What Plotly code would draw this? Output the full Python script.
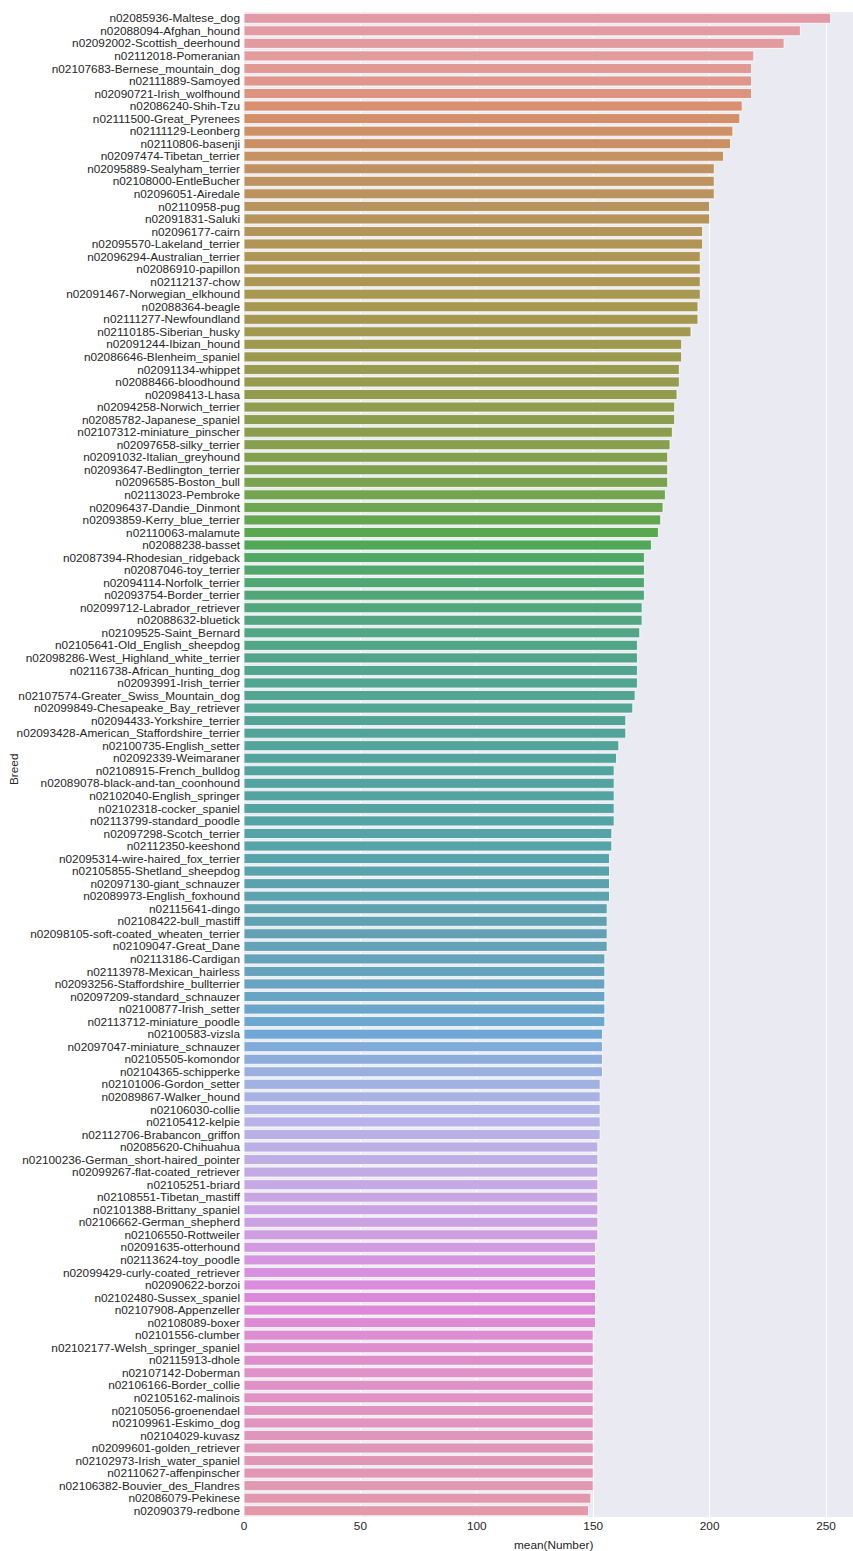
import colorsys
import math
import plotly.graph_objects as go

breeds = [
    "n02085936-Maltese_dog", "n02088094-Afghan_hound", "n02092002-Scottish_deerhound",
    "n02112018-Pomeranian", "n02107683-Bernese_mountain_dog", "n02111889-Samoyed",
    "n02090721-Irish_wolfhound", "n02086240-Shih-Tzu", "n02111500-Great_Pyrenees",
    "n02111129-Leonberg", "n02110806-basenji", "n02097474-Tibetan_terrier",
    "n02095889-Sealyham_terrier", "n02108000-EntleBucher", "n02096051-Airedale",
    "n02110958-pug", "n02091831-Saluki", "n02096177-cairn", "n02095570-Lakeland_terrier",
    "n02096294-Australian_terrier", "n02086910-papillon", "n02112137-chow",
    "n02091467-Norwegian_elkhound", "n02088364-beagle", "n02111277-Newfoundland",
    "n02110185-Siberian_husky", "n02091244-Ibizan_hound", "n02086646-Blenheim_spaniel",
    "n02091134-whippet", "n02088466-bloodhound", "n02098413-Lhasa",
    "n02094258-Norwich_terrier", "n02085782-Japanese_spaniel", "n02107312-miniature_pinscher",
    "n02097658-silky_terrier", "n02091032-Italian_greyhound", "n02093647-Bedlington_terrier",
    "n02096585-Boston_bull", "n02113023-Pembroke", "n02096437-Dandie_Dinmont",
    "n02093859-Kerry_blue_terrier", "n02110063-malamute", "n02088238-basset",
    "n02087394-Rhodesian_ridgeback", "n02087046-toy_terrier", "n02094114-Norfolk_terrier",
    "n02093754-Border_terrier", "n02099712-Labrador_retriever", "n02088632-bluetick",
    "n02109525-Saint_Bernard", "n02105641-Old_English_sheepdog",
    "n02098286-West_Highland_white_terrier", "n02116738-African_hunting_dog",
    "n02093991-Irish_terrier", "n02107574-Greater_Swiss_Mountain_dog",
    "n02099849-Chesapeake_Bay_retriever", "n02094433-Yorkshire_terrier",
    "n02093428-American_Staffordshire_terrier", "n02100735-English_setter",
    "n02092339-Weimaraner", "n02108915-French_bulldog", "n02089078-black-and-tan_coonhound",
    "n02102040-English_springer", "n02102318-cocker_spaniel", "n02113799-standard_poodle",
    "n02097298-Scotch_terrier", "n02112350-keeshond", "n02095314-wire-haired_fox_terrier",
    "n02105855-Shetland_sheepdog", "n02097130-giant_schnauzer", "n02089973-English_foxhound",
    "n02115641-dingo", "n02108422-bull_mastiff", "n02098105-soft-coated_wheaten_terrier",
    "n02109047-Great_Dane", "n02113186-Cardigan", "n02113978-Mexican_hairless",
    "n02093256-Staffordshire_bullterrier", "n02097209-standard_schnauzer",
    "n02100877-Irish_setter", "n02113712-miniature_poodle", "n02100583-vizsla",
    "n02097047-miniature_schnauzer", "n02105505-komondor", "n02104365-schipperke",
    "n02101006-Gordon_setter", "n02089867-Walker_hound", "n02106030-collie",
    "n02105412-kelpie", "n02112706-Brabancon_griffon", "n02085620-Chihuahua",
    "n02100236-German_short-haired_pointer", "n02099267-flat-coated_retriever",
    "n02105251-briard", "n02108551-Tibetan_mastiff", "n02101388-Brittany_spaniel",
    "n02106662-German_shepherd", "n02106550-Rottweiler", "n02091635-otterhound",
    "n02113624-toy_poodle", "n02099429-curly-coated_retriever", "n02090622-borzoi",
    "n02102480-Sussex_spaniel", "n02107908-Appenzeller", "n02108089-boxer",
    "n02101556-clumber", "n02102177-Welsh_springer_spaniel", "n02115913-dhole",
    "n02107142-Doberman", "n02106166-Border_collie", "n02105162-malinois",
    "n02105056-groenendael", "n02109961-Eskimo_dog", "n02104029-kuvasz",
    "n02099601-golden_retriever", "n02102973-Irish_water_spaniel",
    "n02110627-affenpinscher", "n02106382-Bouvier_des_Flandres", "n02086079-Pekinese",
    "n02090379-redbone",
]

mean_number = [
    252, 239, 232, 219, 218, 218, 218, 214, 213, 210, 209, 206, 202, 202, 202, 200, 200,
    197, 197, 196, 196, 196, 196, 195, 195, 192, 188, 188, 187, 187, 186, 185, 185, 184,
    183, 182, 182, 182, 181, 180, 179, 178, 175, 172, 172, 172, 172, 171, 171, 170, 169,
    169, 169, 169, 168, 167, 164, 164, 161, 160, 159, 159, 159, 159, 159, 158, 158, 157,
    157, 157, 157, 156, 156, 156, 156, 155, 155, 155, 155, 155, 155, 154, 154, 154, 154,
    153, 153, 153, 153, 153, 152, 152, 152, 152, 152, 152, 152, 152, 151, 151, 151, 151,
    151, 151, 151, 150, 150, 150, 150, 150, 150, 150, 150, 150, 150, 150, 150, 150, 149,
    148,
]

x_ticks = [0, 50, 100, 150, 200, 250]

# ---- seaborn "husl" palette, desaturated like sns.barplot ----
_M = [[3.2406, -1.5372, -0.4986], [-0.9689, 1.8758, 0.0415], [0.0557, -0.2040, 1.0570]]
_REF_Y, _REF_U, _REF_V = 1.0, 0.19784, 0.46834
_LAB_E, _LAB_K = 0.008856, 903.3


def _max_chroma(L, H):
    hrad = math.radians(H)
    sinH, cosH = math.sin(hrad), math.cos(hrad)
    sub1 = ((L + 16) ** 3) / 1560896.0
    sub2 = sub1 if sub1 > _LAB_E else L / _LAB_K
    result = float("inf")
    for m1, m2, m3 in _M:
        top = (0.99915 * m1 + 1.05122 * m2 + 1.14460 * m3) * sub2
        rbottom = 0.86330 * m3 - 0.17266 * m2
        lbottom = 0.12949 * m3 - 0.38848 * m1
        bottom = (rbottom * sinH + lbottom * cosH) * sub2
        for t in (0.0, 1.0):
            C = L * (top - 1.05122 * t) / (bottom + 0.17266 * sinH * t)
            if 0 < C < result:
                result = C
    return result


def _f_inv(t):
    return t ** 3 if t ** 3 > _LAB_E else (116.0 * t - 16.0) / _LAB_K


def _from_linear(c):
    return 12.92 * c if c <= 0.0031308 else 1.055 * c ** (1 / 2.4) - 0.055


def husl_to_rgb(H, S, L):
    C = _max_chroma(L, H) / 100.0 * S
    hrad = math.radians(H)
    U, V = math.cos(hrad) * C, math.sin(hrad) * C
    varY = _f_inv((L + 16) / 116.0)
    varU = U / (13.0 * L) + _REF_U
    varV = V / (13.0 * L) + _REF_V
    Y = varY * _REF_Y
    X = -(9.0 * Y * varU) / ((varU - 4.0) * varV - varU * varV)
    Z = (9.0 * Y - 15.0 * varV * Y - varV * X) / (3.0 * varV)
    rgb = [_from_linear(r[0] * X + r[1] * Y + r[2] * Z) for r in _M]
    return [min(max(v, 0.0), 1.0) for v in rgb]


def husl_palette(n, h=0.01, s=0.9, l=0.65, desat=0.62, lighten=0.04):
    cols = []
    for i in range(n):
        hue = ((i / n) + h) % 1 * 359
        r, g, b = husl_to_rgb(hue, s * 99, l * 99)
        hh, ll, ss = colorsys.rgb_to_hls(r, g, b)
        r, g, b = colorsys.hls_to_rgb(hh, min(1.0, ll + lighten), ss * desat)
        cols.append("rgb(%d,%d,%d)" % (round(r * 255), round(g * 255), round(b * 255)))
    return cols


colors = husl_palette(len(breeds))

FONT = "Liberation Sans, Arial, sans-serif"
TXT = "#262626"
FS = 11.8

fig = go.Figure(
    go.Bar(
        x=mean_number,
        y=breeds,
        orientation="h",
        marker=dict(color=colors, line=dict(color="white", width=0.8)),
        hoverinfo="x+y",
    )
)

plot_w = 853 - 244
plot_h = 1551 - 12 - 34

fig.update_layout(
    width=853,
    height=1551,
    paper_bgcolor="white",
    plot_bgcolor="#EAEAF2",
    margin=dict(l=244, r=0, t=12, b=34),
    bargap=0.2,
    showlegend=False,
    font=dict(family=FONT, size=FS, color=TXT),
    xaxis=dict(
        range=[0, 261.6],
        tickvals=x_ticks,
        ticktext=[str(v) for v in x_ticks],
        showgrid=True,
        gridcolor="white",
        gridwidth=1.2,
        zeroline=False,
        showline=False,
        ticks="",
        automargin=False,
        tickfont=dict(family=FONT, size=FS, color=TXT),
    ),
    yaxis=dict(
        categoryorder="array",
        categoryarray=breeds,
        tickmode="array",
        tickvals=breeds,
        ticktext=breeds,
        autorange="reversed",
        showgrid=False,
        zeroline=False,
        showline=False,
        ticks="",
        automargin=False,
        ticklabelstandoff=3,
        tickfont=dict(family=FONT, size=FS, color=TXT),
    ),
    annotations=[
        dict(text="mean(Number)", x=(553 - 244) / plot_w, y=-(1545 - 1517) / plot_h,
             xref="paper", yref="paper", xanchor="center", yanchor="middle",
             showarrow=False, font=dict(family=FONT, size=FS, color=TXT)),
        dict(text="Breed", x=-(244 - 14) / plot_w, y=1 - (770 - 12) / plot_h,
             xref="paper", yref="paper", xanchor="center", yanchor="middle",
             textangle=-90, showarrow=False, font=dict(family=FONT, size=FS, color=TXT)),
    ],
)

fig.write_html(
    "out.html",
    config={"displayModeBar": False},
    post_script="document.body.style.margin='0';document.body.style.padding='0';"
                "document.documentElement.style.overflow='hidden';",
)
